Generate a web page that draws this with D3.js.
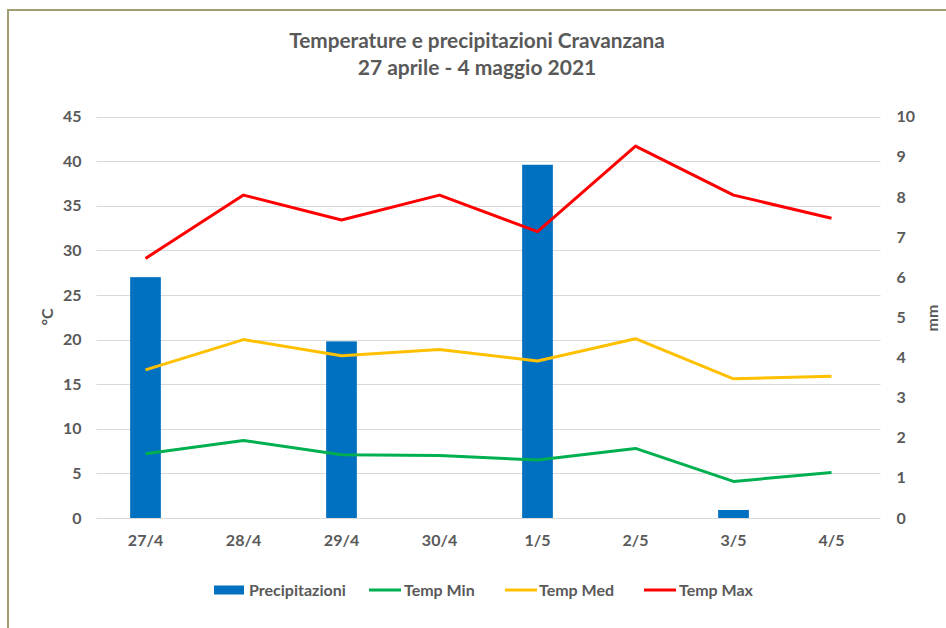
<!DOCTYPE html>
<html><head><meta charset="utf-8">
<script src="https://cdn.jsdelivr.net/npm/d3@7"></script>
<style>body{margin:0;background:#fff}svg{display:block}text{font-family:Lato,"Open Sans",sans-serif;font-weight:bold;fill:#595959}</style>
</head><body><svg id="c" width="946" height="628"></svg>
<script>
const categories = ["27/4","28/4","29/4","30/4","1/5","2/5","3/5","4/5"];
const precipitazioni = [6.0,0,4.4,0,8.8,0,0.2,0];
const tempMin = [7.2,8.7,7.1,7.0,6.5,7.8,4.1,5.1];
const tempMed = [16.6,20.0,18.2,18.9,17.6,20.1,15.6,15.9];
const tempMax = [29.1,36.2,33.4,36.2,32.1,41.7,36.2,33.6];
const leftTicks = [0,5,10,15,20,25,30,35,40,45];
const rightTicks = [0,1,2,3,4,5,6,7,8,9,10];
const titleLines = ["Temperature e precipitazioni Cravanzana","27 aprile - 4 maggio 2021"];

const svg = d3.select("#c");
svg.append("rect").attr("x",8).attr("y",10).attr("width",960).attr("height",640)
  .attr("fill","none").attr("stroke","#a39d72").attr("stroke-width",2);

const L=96.5,R=880.5,T=116.6,B=518;
const x = d3.scaleBand().domain(categories).range([L,R]);
const yL = d3.scaleLinear().domain([0,45]).range([B,T]);
const yR = d3.scaleLinear().domain([0,10]).range([B,T]);

// gridlines
svg.append("g").selectAll("line").data(leftTicks).join("line")
  .attr("x1",L).attr("x2",R).attr("y1",d=>Math.round(yL(d))+0.5).attr("y2",d=>Math.round(yL(d))+0.5)
  .attr("stroke","#d9d9d9").attr("stroke-width",1);

// left axis
const ga = svg.append("g").attr("transform",`translate(${L},0)`)
  .call(d3.axisLeft(yL).tickValues(leftTicks).tickSize(0).tickPadding(15));
ga.select(".domain").remove();
ga.selectAll("text").style("font-size","16px").attr("fill","#595959");
const gr = svg.append("g").attr("transform",`translate(${R},0)`)
  .call(d3.axisRight(yR).tickValues(rightTicks).tickSize(0).tickPadding(16));
gr.select(".domain").remove();
gr.selectAll("text").style("font-size","16px").attr("fill","#595959");
const gx = svg.append("g").attr("transform",`translate(0,${B})`)
  .call(d3.axisBottom(x).tickSize(0).tickPadding(17));
gx.select(".domain").remove();
gx.selectAll("text").style("font-size","16px").attr("fill","#595959");

// bars
const bw = 30.7;
svg.append("g").selectAll("rect").data(precipitazioni).join("rect")
  .attr("x",(d,i)=>x(categories[i])+x.bandwidth()/2-bw/2)
  .attr("width",bw)
  .attr("y",d=>yR(d)).attr("height",d=>B-yR(d))
  .attr("fill","#0070C0");

// lines
const series=[[tempMin,"#00B050"],[tempMed,"#FFC000"],[tempMax,"#FF0000"]];
const line = d3.line().x((d,i)=>x(categories[i])+x.bandwidth()/2).y(d=>yL(d));
series.forEach(([s,c])=>{
  svg.append("path").datum(s).attr("d",line).attr("fill","none")
    .attr("stroke",c).attr("stroke-width",3).attr("stroke-linejoin","round");
});

// axis titles
svg.append("text").attr("transform","translate(53,317) rotate(-90)").attr("text-anchor","middle")
  .style("font-size","16px").text("°C");
svg.append("text").attr("transform","translate(938,318) rotate(-90)").attr("text-anchor","middle")
  .style("font-size","16px").text("mm");

// title
svg.append("g").selectAll("text").data(titleLines).join("text")
  .attr("x",477).attr("y",(d,i)=>48+i*27).attr("text-anchor","middle")
  .style("font-size",(d,i)=>i===0?"20.8px":"21px").text(d=>d);

// legend
const leg = [
  {name:"Precipitazioni",type:"bar",c:"#0070C0",x:214,tx:249},
  {name:"Temp Min",type:"line",c:"#00B050",x:369,tx:404},
  {name:"Temp Med",type:"line",c:"#FFC000",x:505,tx:539},
  {name:"Temp Max",type:"line",c:"#FF0000",x:644,tx:679}
];
const ly=590;
leg.forEach(l=>{
  if(l.type==="bar") svg.append("rect").attr("x",l.x).attr("y",ly-4.5).attr("width",30).attr("height",9).attr("fill",l.c);
  else svg.append("line").attr("x1",l.x).attr("x2",l.x+32).attr("y1",ly).attr("y2",ly).attr("stroke",l.c).attr("stroke-width",3);
  svg.append("text").attr("x",l.tx).attr("y",ly+5.5).style("font-size","16px").text(l.name);
});
</script></body></html>
